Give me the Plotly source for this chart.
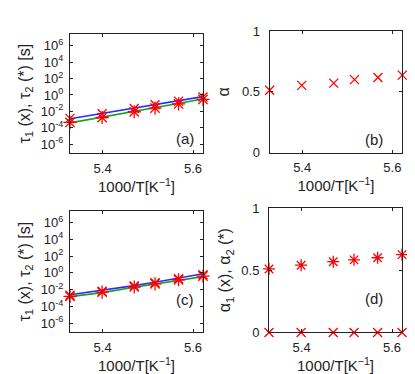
import plotly.graph_objects as go
from plotly.subplots import make_subplots

# 1000/T values
x = [5.328, 5.399, 5.470, 5.516, 5.568, 5.622]

# panel (a): log10 of tau values
a_tau1 = [-2.85, -2.30, -1.65, -1.20, -0.75, -0.25]
a_tau2 = [-3.35, -2.75, -2.05, -1.60, -1.10, -0.55]
a_fit1 = [-2.90, -2.25, -1.60, -1.17, -0.70, -0.20]
a_fit2 = [-3.40, -2.70, -2.00, -1.55, -1.04, -0.50]

# panel (b)
b_alpha = [0.513, 0.553, 0.571, 0.600, 0.618, 0.637]

# panel (c): log10 of tau values
c_tau1 = [-2.65, -2.18, -1.55, -1.18, -0.70, -0.22]
c_tau2 = [-2.80, -2.30, -1.68, -1.30, -0.82, -0.38]
c_fit1 = [-2.60, -2.10, -1.52, -1.12, -0.62, -0.11]
c_fit2 = [-2.83, -2.35, -1.72, -1.35, -0.90, -0.45]

# panel (d)
d_alpha1 = [0, 0, 0, 0, 0, 0]
d_alpha2 = [0.510, 0.540, 0.568, 0.583, 0.600, 0.625]

log_ticks = [-6, -4, -2, 0, 2, 4, 6]
xlabel = "1000/T[K<sup>\u22121</sup>]"

RED = "#ff0000"
BLUE = "#2b2bff"
GREEN = "#1e9e1e"
INK = "#222"

fig = make_subplots(rows=2, cols=2)


def tau(v):
    return [10 ** t for t in v]


def markers(sym, size):
    return dict(symbol=sym, size=size, color=RED, line=dict(color=RED, width=1.3))


for row, t1, t2, f1, f2 in [(1, a_tau1, a_tau2, a_fit1, a_fit2),
                            (2, c_tau1, c_tau2, c_fit1, c_fit2)]:
    fig.add_trace(go.Scatter(x=x, y=tau(f1), mode="lines",
                             line=dict(color=BLUE, width=1.6)), row=row, col=1)
    fig.add_trace(go.Scatter(x=x, y=tau(f2), mode="lines",
                             line=dict(color=GREEN, width=1.6)), row=row, col=1)
    fig.add_trace(go.Scatter(x=x, y=tau(t1), mode="markers", cliponaxis=False,
                             marker=markers("x-thin-open", 9)), row=row, col=1)
    fig.add_trace(go.Scatter(x=x, y=tau(t2), mode="markers", cliponaxis=False,
                             marker=markers("asterisk-open", 11)), row=row, col=1)

fig.add_trace(go.Scatter(x=x, y=b_alpha, mode="markers", cliponaxis=False,
                         marker=markers("x-thin-open", 9)), row=1, col=2)
fig.add_trace(go.Scatter(x=x, y=d_alpha1, mode="markers", cliponaxis=False,
                         marker=markers("x-thin-open", 9)), row=2, col=2)
fig.add_trace(go.Scatter(x=x, y=d_alpha2, mode="markers", cliponaxis=False,
                         marker=markers("asterisk-open", 10)), row=2, col=2)

W, H = 415, 374
dom = {
    "a": ((62, 195), (20, 144)),
    "b": ((261.7, 394.3), (16.7, 143.3)),
    "c": ((62, 195), (204, 330.7)),
    "d": ((261, 394), (201, 330.7)),
}
axes = {"a": ("xaxis", "yaxis"), "b": ("xaxis2", "yaxis2"),
        "c": ("xaxis3", "yaxis3"), "d": ("xaxis4", "yaxis4")}

common = dict(showline=True, linecolor=INK, linewidth=1, mirror="ticks",
              ticks="inside", ticklen=3, tickcolor=INK, showgrid=False,
              zeroline=False, tickfont=dict(size=13, color=INK))
tfont = dict(size=16, color=INK)

for k, (xa, ya) in axes.items():
    (x0, x1), (y0, y1) = dom[k]
    fig.layout[xa].update(domain=[x0 / W, x1 / W], range=[min(x), max(x)],
                          tickvals=[5.4, 5.6], ticktext=["5.4", "5.6"],
                          ticklabelstandoff=3,
                          title=dict(text=xlabel, font=dict(size=15, color=INK), standoff=0),
                          **common)
    fig.layout[ya].update(domain=[1 - y1 / H, 1 - y0 / H], ticklabelstandoff=3, **common)

for ya in ("yaxis", "yaxis3"):
    fig.layout[ya].update(type="log", range=[-7.1, 7.4],
                          tickvals=[10 ** t for t in log_ticks],
                          ticktext=["10<sup>%d</sup>" % t for t in log_ticks],
                          title=dict(text="\u03c4<sub>1</sub> (x), \u03c4<sub>2</sub> (*) [s]",
                                     font=tfont, standoff=6))
fig.layout["yaxis2"].update(range=[0, 1], tickvals=[0, 0.5, 1], ticktext=["0", "0.5", "1"],
                            ticklabelstandoff=6,
                            title=dict(text="\u03b1", font=tfont, standoff=8))
fig.layout["yaxis4"].update(range=[0, 1], tickvals=[0, 0.5, 1], ticktext=["0", "0.5", "1"],
                            ticklabelstandoff=6,
                            title=dict(text="\u03b1<sub>1</sub> (x), \u03b1<sub>2</sub> (*)",
                                       font=tfont, standoff=6))

for lbl, px, py in [("(a)", 177, 118), ("(b)", 377, 119), ("(c)", 177, 307), ("(d)", 377, 306)]:
    fig.add_annotation(text=lbl, x=px / W, y=1 - py / H, xref="paper", yref="paper",
                       showarrow=False, font=dict(size=15, color=INK))

fig.update_layout(width=W, height=H, margin=dict(l=0, r=0, t=0, b=0),
                  showlegend=False, plot_bgcolor="white", paper_bgcolor="white",
                  font=dict(family="Liberation Sans, Arial, sans-serif", color=INK))

fig.write_html("out.html")
